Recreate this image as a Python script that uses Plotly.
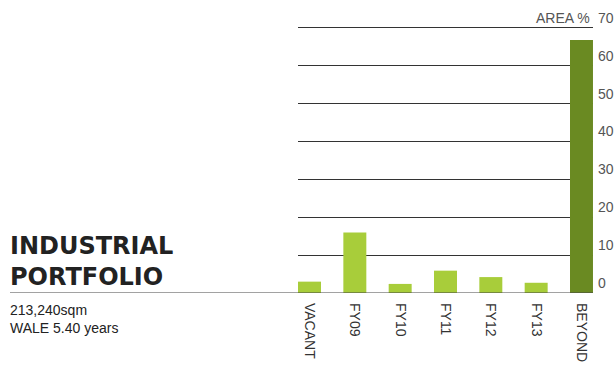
import plotly.graph_objects as go

# Lease expiry profile, share of area by year
categories = ["VACANT", "FY09", "FY10", "FY11", "FY12", "FY13", "BEYOND"]
area_pct = [3.0, 16.0, 2.4, 5.9, 4.2, 2.7, 66.8]
bar_colors = ["#a8cd3a"] * 6 + ["#6a8a22"]
y_ticks = [0, 10, 20, 30, 40, 50, 60, 70]

title_lines = ["INDUSTRIAL", "PORTFOLIO"]
sub_lines = ["213,240sqm", "WALE 5.40 years"]

PLOT_L, PLOT_W = 298, 295
left_edge = (10 - PLOT_L) / PLOT_W

fig = go.Figure(
    go.Bar(
        x=categories,
        y=area_pct,
        marker=dict(color=bar_colors, line=dict(width=0)),
        width=0.507,
        hoverinfo="x+y",
    )
)

fig.update_layout(
    width=616,
    height=365,
    margin=dict(l=PLOT_L, r=616 - PLOT_L - PLOT_W, t=26, b=72),
    paper_bgcolor="white",
    plot_bgcolor="white",
    showlegend=False,
    font=dict(family="Liberation Sans, Arial, sans-serif", color="#444", size=14),
    xaxis=dict(
        type="category",
        range=[-0.254, 6.254],
        automargin=False,
        showgrid=False,
        showline=False,
        zeroline=False,
        ticks="",
        tickangle=90,
        tickfont=dict(size=14, color="#333"),
        ticklabelstandoff=9,
    ),
    yaxis=dict(
        range=[0, 70.5],
        side="right",
        automargin=False,
        tickvals=y_ticks,
        showgrid=True,
        gridcolor="#333",
        gridwidth=1,
        zeroline=False,
        showline=False,
        ticks="",
        tickfont=dict(size=14, color="#555"),
        ticklabelshift=-10,
        ticklabelstandoff=4,
    ),
)

# Baseline continues under the portfolio heading
fig.add_shape(
    type="line", xref="paper", yref="y",
    x0=left_edge, x1=1, y0=0, y1=0,
    line=dict(color="#444", width=1),
)

fig.add_annotation(
    text="AREA %", xref="paper", yref="y", x=1, y=70,
    xanchor="right", yanchor="middle", xshift=-1, yshift=10, showarrow=False,
    font=dict(size=14, color="#555"),
)

fig.add_annotation(
    text="<b>" + "<br>".join(title_lines) + "</b>",
    xref="paper", yref="paper", x=left_edge, y=0,
    xanchor="left", yanchor="bottom", xshift=-2, yshift=0, align="left", showarrow=False,
    font=dict(family="DejaVu Sans, sans-serif", size=24, color="#222"),
)

fig.add_annotation(
    text="<br>".join(sub_lines),
    xref="paper", yref="paper", x=left_edge, y=0,
    xanchor="left", yanchor="top", xshift=-2, yshift=-7, align="left", showarrow=False,
    font=dict(size=14, color="#222"),
)

fig.write_html("out.html")
